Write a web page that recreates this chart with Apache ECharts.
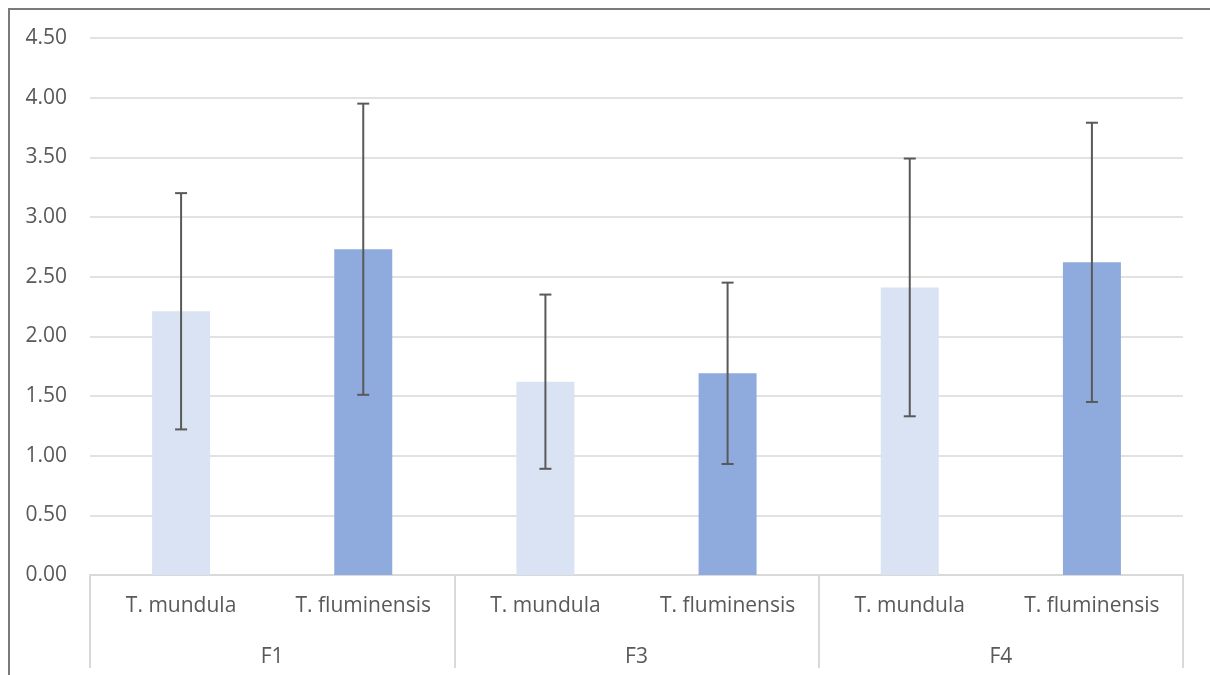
<!DOCTYPE html>
<html>
<head>
<meta charset="utf-8">
<script src="https://cdn.jsdelivr.net/npm/echarts@6/dist/echarts.min.js"></script>
<style>
html,body{margin:0;padding:0;background:#fff;}
#chart{width:1210px;height:675px;}
#frame{position:absolute;left:8px;top:8px;width:1210px;height:680px;border-left:2px solid #7a7a7a;border-top:2px solid #7a7a7a;pointer-events:none;}
</style>
</head>
<body>
<div id="chart"></div>
<div id="frame"></div>
<script>
const speciesLabels = ['T. mundula','T. fluminensis','T. mundula','T. fluminensis','T. mundula','T. fluminensis'];
const groupLabels = ['F1','F3','F4'];
const meanValues = [2.21, 2.73, 1.62, 1.69, 2.41, 2.62];
const errLow = [1.22, 1.51, 0.89, 0.93, 1.33, 1.45];
const errHigh = [3.20, 3.95, 2.35, 2.45, 3.49, 3.79];
const yTicks = { min: 0, max: 4.5, interval: 0.5 };

const lightColor = '#DAE3F3';
const darkColor = '#8FAADC';
const fontFam = '"Open Sans", sans-serif';

const chart = echarts.init(document.getElementById('chart'));
const barData = meanValues.map((v, i) => ({
  value: v,
  itemStyle: { color: i % 2 === 0 ? lightColor : darkColor }
}));
const errData = meanValues.map((v, i) => [i, errLow[i], errHigh[i]]);

chart.setOption({
  animation: false,
  backgroundColor: '#fff',
  grid: { left: 90, right: 27, top: 38, bottom: 100, containLabel: false },
  xAxis: [
    {
      type: 'category',
      data: speciesLabels,
      position: 'bottom',
      axisLine: { show: true, lineStyle: { color: '#d9d9d9', width: 2 } },
      axisTick: { show: false },
      axisLabel: { color: '#595959', fontSize: 21, fontFamily: fontFam, margin: 21, interval: 0 }
    },
    {
      type: 'category',
      data: groupLabels,
      position: 'bottom',
      axisLine: { show: false },
      axisTick: { show: true, length: 93, interval: 0, lineStyle: { color: '#d9d9d9', width: 2 } },
      axisLabel: { color: '#595959', fontSize: 21, fontFamily: fontFam, margin: 72, interval: 0 }
    }
  ],
  yAxis: {
    type: 'value',
    min: yTicks.min, max: yTicks.max, interval: yTicks.interval,
    axisLine: { show: false },
    axisTick: { show: false },
    axisLabel: { color: '#595959', fontSize: 21, fontFamily: fontFam, margin: 23,
      formatter: v => v.toFixed(2) },
    splitLine: { lineStyle: { color: '#d9d9d9', width: 1.5 } }
  },
  series: [
    {
      type: 'bar',
      xAxisIndex: 0,
      data: barData,
      barWidth: 58,
      z: 2
    },
    {
      type: 'custom',
      xAxisIndex: 0,
      data: errData,
      z: 5,
      renderItem: function (params, api) {
        const x = api.value(0);
        const lo = api.coord([x, api.value(1)]);
        const hi = api.coord([x, api.value(2)]);
        const half = 6;
        const style = { stroke: '#595959', lineWidth: 2 };
        return {
          type: 'group',
          children: [
            { type: 'line', shape: { x1: hi[0], y1: hi[1], x2: lo[0], y2: lo[1] }, style: style },
            { type: 'line', shape: { x1: hi[0] - half, y1: hi[1], x2: hi[0] + half, y2: hi[1] }, style: style },
            { type: 'line', shape: { x1: lo[0] - half, y1: lo[1], x2: lo[0] + half, y2: lo[1] }, style: style }
          ]
        };
      }
    }
  ]
});
</script>
</body>
</html>
